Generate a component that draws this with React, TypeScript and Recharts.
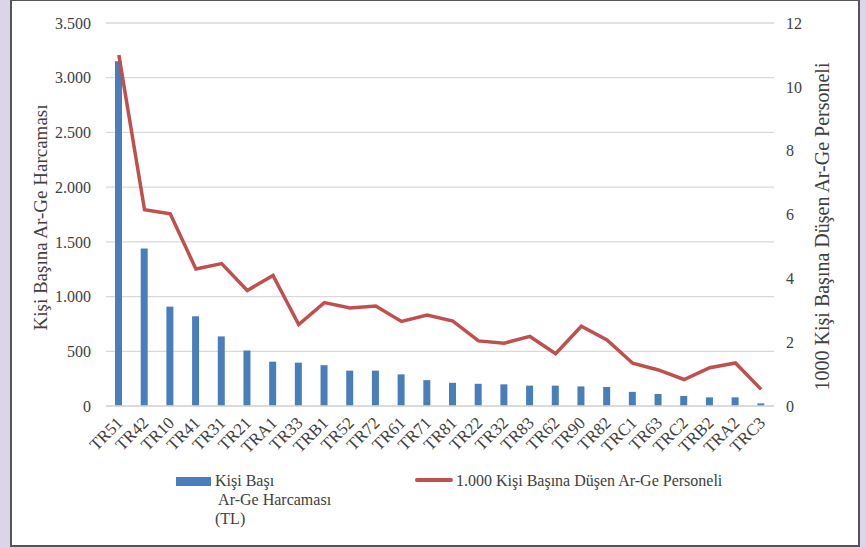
import React from 'react';
import { ComposedChart, Bar, Line, XAxis, YAxis, CartesianGrid, Label } from 'recharts';

const regions = [
  'TR51', 'TR42', 'TR10', 'TR41', 'TR31', 'TR21', 'TRA1', 'TR33', 'TRB1', 'TR52',
  'TR72', 'TR61', 'TR71', 'TR81', 'TR22', 'TR32', 'TR83', 'TR62', 'TR90', 'TR82',
  'TRC1', 'TR63', 'TRC2', 'TRB2', 'TRA2', 'TRC3',
];

// Kişi başı Ar-Ge harcaması (TL)
const spending = [
  3150, 1440, 908, 820, 636, 507, 405, 396, 373, 323,
  323, 289, 236, 212, 203, 198, 186, 186, 179, 174,
  129, 110, 92, 79, 79, 24,
];

// 1.000 kişi başına düşen Ar-Ge personeli
const personnel = [
  11.0, 6.15, 6.02, 4.29, 4.46, 3.62, 4.09, 2.55, 3.24, 3.07,
  3.13, 2.65, 2.85, 2.66, 2.04, 1.97, 2.18, 1.64, 2.5, 2.07,
  1.34, 1.13, 0.83, 1.2, 1.35, 0.52,
];

const leftTicks = [0, 500, 1000, 1500, 2000, 2500, 3000, 3500];
const rightTicks = [0, 2, 4, 6, 8, 10, 12];

const data = regions.map((name, i) => ({ name, spending: spending[i], personnel: personnel[i] }));

const serif = '"Liberation Serif", "Times New Roman", serif';
const textColor = '#404040';

const fmtThousands = (v: number) => String(v).replace(/\B(?=(\d{3})+(?!\d))/g, '.');

const renderXTick = (props: any) => {
  const { x, y, payload } = props;
  const tx = x + 5;
  const ty = y + 16;
  return (
    <g transform={`translate(${tx}, ${ty})`}>
      <text
        x={0}
        y={0}
        transform="rotate(-45)"
        textAnchor="end"
        fontSize={17}
        fontFamily={serif}
        fill={textColor}
      >
        {payload.value}
      </text>
    </g>
  );
};

const AxisTitle = ({ viewBox, value, dx, dy, size }: any) => {
  const cx = viewBox.x + dx;
  const cy = viewBox.y + viewBox.height / 2 + dy;
  return (
    <text
      x={cx}
      y={cy}
      transform={`rotate(-90, ${cx}, ${cy})`}
      textAnchor="middle"
      dominantBaseline="central"
      fontSize={size}
      fontFamily={serif}
      fill={textColor}
    >
      {value}
    </text>
  );
};

const App = () => {
  return (
    <div style={{ position: 'absolute', left: 0, top: 0, width: 866, height: 548, background: '#dcd4e8' }}>
      <div
        style={{
          position: 'absolute',
          left: 10,
          top: -1,
          width: 846,
          height: 544,
          background: '#fff',
          border: '2px solid #555',
        }}
      />
      <div style={{ position: 'absolute', left: 0, top: 0 }}>
        <ComposedChart width={866} height={548} data={data} margin={{ top: 23, right: 0, bottom: 82, left: 0 }}>
          <CartesianGrid yAxisId="left" vertical={false} stroke="#d9d9d9" strokeWidth={1.3} />
          <XAxis
            dataKey="name"
            interval={0}
            height={60}
            tickLine={false}
            tickSize={0}
            axisLine={{ stroke: '#d9d9d9', strokeWidth: 1.5 }}
            tick={renderXTick}
          />
          <YAxis
            yAxisId="left"
            width={106}
            domain={[0, 3500]}
            ticks={leftTicks}
            axisLine={false}
            tickLine={false}
            tickSize={0}
            tickMargin={15}
            tickFormatter={fmtThousands}
            tick={{ fontSize: 16, fontFamily: serif, fill: textColor }}
          >
            <Label content={(p: any) => <AxisTitle {...p} value="Kişi Başına Ar-Ge Harcaması" dx={40} dy={3} size={19} />} />
          </YAxis>
          <YAxis
            yAxisId="right"
            orientation="right"
            width={92}
            domain={[0, 12]}
            ticks={rightTicks}
            axisLine={false}
            tickLine={false}
            tickSize={0}
            tickMargin={12}
            tick={{ fontSize: 16, fontFamily: serif, fill: textColor }}
          >
            <Label
              content={(p: any) => (
                <AxisTitle {...p} value="1000 Kişi Başına Düşen Ar-Ge Personeli" dx={48} dy={12} size={20} />
              )}
            />
          </YAxis>
          <Bar yAxisId="left" dataKey="spending" fill="#4a7ebb" barSize={7} isAnimationActive={false} />
          <Line
            yAxisId="right"
            type="linear"
            dataKey="personnel"
            stroke="#c0504d"
            strokeWidth={3.5}
            dot={false}
            isAnimationActive={false}
          />
        </ComposedChart>
      </div>
      <div style={{ position: 'absolute', left: 176, top: 477, width: 35, height: 9, background: '#4a7ebb' }} />
      <div
        style={{
          position: 'absolute',
          left: 215,
          top: 471,
          fontFamily: serif,
          fontSize: 16,
          lineHeight: '19px',
          color: textColor,
          whiteSpace: 'pre',
        }}
      >
        {'Kişi Başı\n Ar-Ge Harcaması\n(TL)'}
      </div>
      <div style={{ position: 'absolute', left: 415, top: 478, width: 38, height: 4, background: '#c0504d', borderRadius: 2 }} />
      <div
        style={{
          position: 'absolute',
          left: 456,
          top: 471,
          fontFamily: serif,
          fontSize: 16,
          lineHeight: '19px',
          color: textColor,
          whiteSpace: 'nowrap',
        }}
      >
        1.000 Kişi Başına Düşen Ar-Ge Personeli
      </div>
    </div>
  );
};

export default App;
